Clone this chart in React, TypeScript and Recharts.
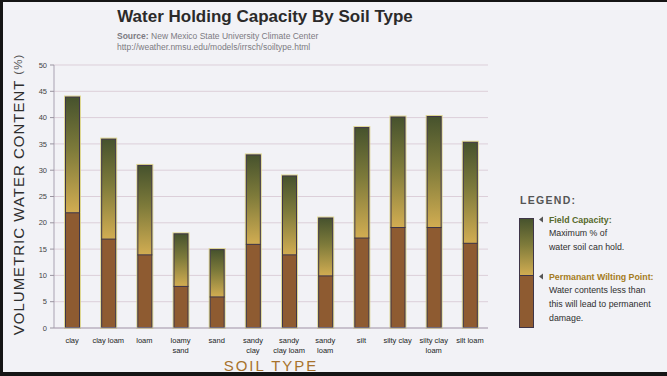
import React from 'react';
import { BarChart, Bar, XAxis, YAxis, CartesianGrid, Legend } from 'recharts';

const soilTypes = [
  'clay',
  'clay loam',
  'loam',
  'loamy sand',
  'sand',
  'sandy clay',
  'sandy clay loam',
  'sandy loam',
  'silt',
  'silty clay',
  'silty clay loam',
  'silt loam',
];
const tickLabelLines = [
  ['clay'],
  ['clay loam'],
  ['loam'],
  ['loamy', 'sand'],
  ['sand'],
  ['sandy', 'clay'],
  ['sandy', 'clay loam'],
  ['sandy', 'loam'],
  ['silt'],
  ['silty clay'],
  ['silty clay', 'loam'],
  ['silt loam'],
];
// volumetric water content, %
const fieldCapacity = [44, 36, 31, 18, 15, 33, 29, 21, 38.2, 40.2, 40.3, 35.4];
const wiltingPoint = [22, 17, 14, 8, 6, 16, 14, 10, 17.2, 19.2, 19.2, 16.2];
const yTicks = [0, 5, 10, 15, 20, 25, 30, 35, 40, 45, 50];

const fieldCapacityNote = ['Maximum % of', 'water soil can hold.'];
const wiltingNote = ['Water contents less than', 'this will lead to permanent', 'damage.'];

const data = soilTypes.map((soil, i) => ({
  soil,
  pwp: wiltingPoint[i],
  available: +(fieldCapacity[i] - wiltingPoint[i]).toFixed(1),
}));

const FONT = '"Liberation Sans", Arial, Helvetica, sans-serif';
const BROWN = '#8e5b31';
const OUTLINE = '#3e3548';
const GLOW = '#d8cf78';

function BottomSegment(props: any) {
  const { x, y, width, height, fill } = props;
  if (!height) return null;
  return (
    <g>
      <rect x={x - 1} y={y} width={width + 2} height={height + 1} fill={GLOW} opacity={0.8} />
      <rect x={x + 0.5} y={y} width={width - 1} height={height - 0.5} fill={fill} stroke={OUTLINE} strokeWidth={1} />
    </g>
  );
}

function TopSegment(props: any) {
  const { x, y, width, height, fill } = props;
  if (!height) return null;
  return (
    <g>
      <rect x={x - 1} y={y - 1} width={width + 2} height={height + 1} fill={GLOW} opacity={0.8} />
      <rect x={x + 0.5} y={y + 0.5} width={width - 1} height={height} fill={fill} stroke={OUTLINE} strokeWidth={1} />
    </g>
  );
}

function SoilTick(props: any) {
  const { x, y, payload } = props;
  const lines = tickLabelLines[soilTypes.indexOf(payload.value)] || [payload.value];
  return (
    <text x={x} y={y} textAnchor="middle" fontSize={7.5} fill="#221e1e" fontFamily={FONT}>
      {lines.map((l, i) => (
        <tspan key={i} x={x} y={y + 15 + i * 9.5}>
          {l}
        </tspan>
      ))}
    </text>
  );
}

function YLabel(props: any) {
  const { viewBox } = props;
  const cx = viewBox.x + 18;
  const cy = viewBox.y + viewBox.height / 2 - 2;
  return (
    <text
      x={cx}
      y={cy}
      transform={`rotate(-90 ${cx} ${cy})`}
      textAnchor="middle"
      dominantBaseline="central"
      fontFamily={FONT}
      fontSize={15}
      letterSpacing={1}
      fill="#2e2e2e"
    >
      VOLUMETRIC WATER CONTENT <tspan fontSize={11.5} fill="#555">(%)</tspan>
    </text>
  );
}

function XLabel(props: any) {
  const { viewBox } = props;
  return (
    <text
      x={viewBox.x + viewBox.width / 2}
      y={viewBox.y + 43}
      textAnchor="middle"
      fontFamily={FONT}
      fontSize={15}
      letterSpacing={2}
      fill="#a8722c"
    >
      SOIL TYPE
    </text>
  );
}

function LegendBox(props: any) {
  const items = props.payload || [];
  const fc = items.find((p: any) => p.dataKey === 'available');
  const wp = items.find((p: any) => p.dataKey === 'pwp');
  return (
    <svg width={157} height={150} style={{ display: 'block', fontFamily: FONT }}>
      <defs>
        <linearGradient id="legendGrad" x1="0" y1="0" x2="0" y2="1">
          <stop offset="0%" stopColor="#46522d" />
          <stop offset="45%" stopColor="#7d7a3a" />
          <stop offset="100%" stopColor="#d2ad52" />
        </linearGradient>
      </defs>
      <text x={10} y={14} fontSize={10.5} fontWeight="bold" letterSpacing={1.3} fill="#555">
        LEGEND:
      </text>
      <rect x={9.5} y={28.5} width={14} height={57} fill="url(#legendGrad)" stroke={OUTLINE} />
      <rect x={9.5} y={85.5} width={14} height={52} fill={BROWN} stroke={OUTLINE} />
      <path d="M29,29.5 L33,26.5 L33,32.5 Z" fill="#555" />
      <path d="M29,86.5 L33,83.5 L33,89.5 Z" fill="#555" />
      <text x={39} y={32.5} fontSize={8.8} fontWeight="bold" fill="#56692b">
        {fc ? fc.value : ''}
      </text>
      {fieldCapacityNote.map((t, i) => (
        <text key={t} x={39} y={46 + i * 14} fontSize={8.8} fill="#2e2e2e">
          {t}
        </text>
      ))}
      <text x={39} y={90} fontSize={8.8} fontWeight="bold" fill="#a57c22">
        {wp ? wp.value : ''}
      </text>
      {wiltingNote.map((t, i) => (
        <text key={t} x={39} y={103 + i * 14} fontSize={8.8} fill="#2e2e2e">
          {t}
        </text>
      ))}
    </svg>
  );
}

export default function App() {
  return (
    <div
      style={{
        position: 'absolute',
        left: 0,
        top: 0,
        width: 667,
        height: 376,
        background: '#f2f2f6',
        overflow: 'hidden',
      }}
    >
      <BarChart
        width={667}
        height={376}
        data={data}
        margin={{ top: 65, right: 179, bottom: 18, left: 0 }}
        barSize={15}
      >
        <defs>
          <linearGradient id="fcGrad" x1="0" y1="0" x2="0" y2="1">
            <stop offset="0%" stopColor="#46522d" />
            <stop offset="45%" stopColor="#7d7a3a" />
            <stop offset="100%" stopColor="#d2ad52" />
          </linearGradient>
        </defs>
        <CartesianGrid vertical={false} stroke="#dccfd9" strokeWidth={1} />
        <XAxis
          dataKey="soil"
          height={30}
          interval={0}
          tickLine={false}
          tickSize={0}
          tickMargin={0}
          axisLine={{ stroke: '#a9a2b2' }}
          tick={<SoilTick />}
          label={<XLabel />}
        />
        <YAxis
          width={54}
          domain={[0, 50]}
          ticks={yTicks}
          interval={0}
          tickSize={4}
          tickMargin={3}
          tickLine={{ stroke: '#9a94a0' }}
          axisLine={{ stroke: '#a9a2b2' }}
          tick={{ fontSize: 7.5, fill: '#444', fontFamily: FONT }}
          label={<YLabel />}
        />
        <YAxis
          yAxisId="right"
          orientation="right"
          width={0}
          domain={[0, 50]}
          tick={false}
          tickLine={false}
          axisLine={{ stroke: '#a9a2b2' }}
        />
        <Bar
          dataKey="pwp"
          name="Permanant Wilting Point:"
          stackId="soil"
          fill={BROWN}
          shape={<BottomSegment />}
          isAnimationActive={false}
        />
        <Bar
          dataKey="available"
          name="Field Capacity:"
          stackId="soil"
          fill="url(#fcGrad)"
          shape={<TopSegment />}
          isAnimationActive={false}
        />
        <Legend
          layout="vertical"
          align="center"
          verticalAlign="middle"
          content={<LegendBox />}
          wrapperStyle={{ left: 510, top: 190, width: 157, height: 150 }}
        />
      </BarChart>
      <svg
        width={667}
        height={376}
        style={{ position: 'absolute', left: 0, top: 0, pointerEvents: 'none', fontFamily: FONT }}
      >
        <text x={265} y={22} textAnchor="middle" fontSize={17} fontWeight="bold" fill="#2b2a2a">
          Water Holding Capacity By Soil Type
        </text>
        <text x={117} y={39} fontSize={8.5} fill="#7c7a82">
          <tspan fontWeight="bold">Source:</tspan> New Mexico State University Climate Center
        </text>
        <text x={117} y={50} fontSize={8.5} fill="#7c7a82">
          http://weather.nmsu.edu/models/irrsch/soiltype.html
        </text>
        <rect x={0} y={0} width={667} height={2} fill="#151515" />
        <rect x={0} y={0} width={3} height={376} fill="#151515" />
        <rect x={0} y={372} width={667} height={4} fill="#151515" />
      </svg>
    </div>
  );
}
